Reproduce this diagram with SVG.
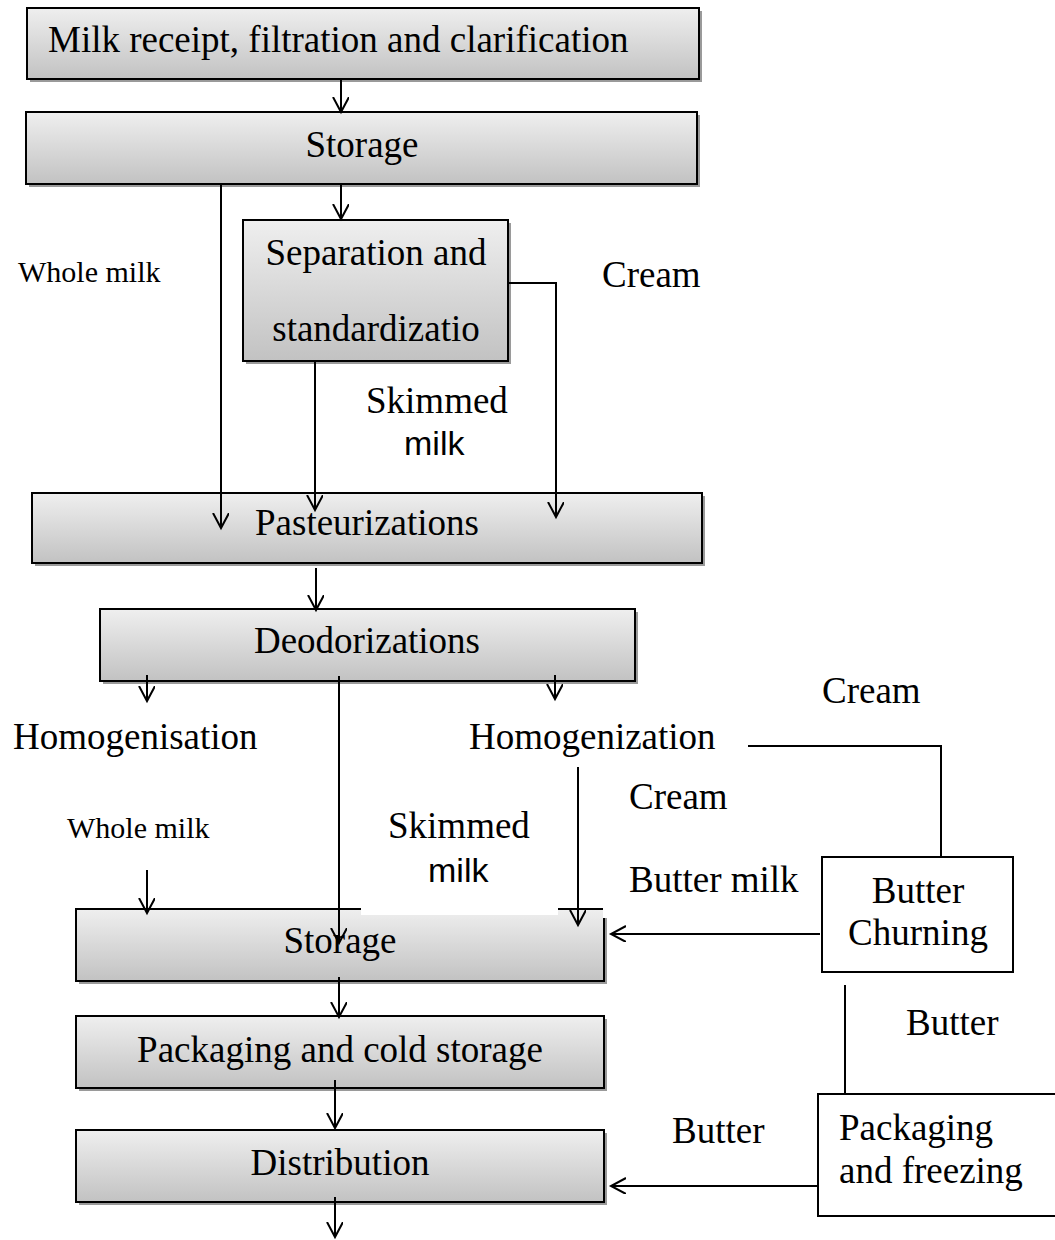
<svg xmlns="http://www.w3.org/2000/svg" width="1055" height="1240" viewBox="0 0 1055 1240">
<style>
.box{fill:url(#g);stroke:#000;stroke-width:2}
.wbox{fill:#fff;stroke:#000;stroke-width:2}
.sh{fill:#9a9a9a}
.t{font-family:"Liberation Serif","Times New Roman",serif;font-size:37px;fill:#000}
.ts{font-family:"Liberation Serif","Times New Roman",serif;font-size:30px;fill:#000}
.ta{font-family:"Liberation Sans",Arial,sans-serif;font-size:34px;fill:#000}
.c{stroke:#000;stroke-width:2;fill:none}
.ca{stroke:#000;stroke-width:2;fill:none;marker-end:url(#ah)}
</style>
<defs>
<linearGradient id="g" x1="0" y1="0" x2="0" y2="1">
<stop offset="0" stop-color="#efefef"/>
<stop offset="1" stop-color="#c2c2c2"/>
</linearGradient>
<marker id="ah" markerUnits="userSpaceOnUse" markerWidth="20" markerHeight="20" refX="15" refY="8" orient="auto" viewBox="0 0 20 20">
<path d="M0,0 L15,8 L0,16" fill="none" stroke="#000" stroke-width="2"/>
</marker>
</defs>
<rect width="1055" height="1240" fill="#fff"/>

<g id="n1">
<rect class="sh" x="30" y="11" width="672" height="71"/>
<rect class="box" x="27" y="8" width="672" height="71"/>
<text class="t" x="48" y="52">Milk receipt, filtration and clarification</text>
</g>
<g id="n2">
<rect class="sh" x="29" y="115" width="671" height="72"/>
<rect class="box" x="26" y="112" width="671" height="72"/>
<text class="t" x="362" y="157" text-anchor="middle">Storage</text>
</g>
<g id="n3">
<rect class="sh" x="246" y="223" width="265" height="141"/>
<rect class="box" x="243" y="220" width="265" height="141"/>
<text class="t" x="376" y="265" text-anchor="middle">Separation and</text>
<text class="t" x="376" y="341" text-anchor="middle">standardizatio</text>
</g>
<g id="n4">
<rect class="sh" x="35" y="496" width="670" height="70"/>
<rect class="box" x="32" y="493" width="670" height="70"/>
<text class="t" x="367" y="535" text-anchor="middle">Pasteurizations</text>
</g>
<g id="n5">
<rect class="sh" x="103" y="612" width="535" height="72"/>
<rect class="box" x="100" y="609" width="535" height="72"/>
<text class="t" x="367" y="653" text-anchor="middle">Deodorizations</text>
</g>
<g id="n6">
<rect class="sh" x="79" y="912" width="528" height="72"/>
<rect class="box" x="76" y="909" width="528" height="72"/>
<rect x="361" y="903" width="197" height="12" fill="#fff"/>
<rect x="603" y="905" width="6" height="13" fill="#fff"/>
<text class="t" x="340" y="953" text-anchor="middle">Storage</text>
</g>
<g id="n7">
<rect class="sh" x="79" y="1019" width="528" height="72"/>
<rect class="box" x="76" y="1016" width="528" height="72"/>
<text class="t" x="340" y="1062" text-anchor="middle">Packaging and cold storage</text>
</g>
<g id="n8">
<rect class="sh" x="79" y="1133" width="528" height="72"/>
<rect class="box" x="76" y="1130" width="528" height="72"/>
<text class="t" x="340" y="1175" text-anchor="middle">Distribution</text>
</g>
<g id="n9">
<rect class="wbox" x="822" y="857" width="191" height="115"/>
<text class="t" x="918" y="903" text-anchor="middle">Butter</text>
<text class="t" x="918" y="945" text-anchor="middle">Churning</text>
</g>
<g id="n10">
<rect class="wbox" x="818" y="1094" width="250" height="122"/>
<text class="t" x="839" y="1140">Packaging</text>
<text class="t" x="839" y="1183">and freezing</text>
</g>

<g id="connectors">
<line class="ca" x1="341" y1="79" x2="341" y2="112"/>
<line class="ca" x1="221" y1="184" x2="221" y2="528"/>
<line class="ca" x1="341" y1="184" x2="341" y2="219"/>
<polyline class="ca" points="508,283 556,283 556,517"/>
<line class="ca" x1="315" y1="361" x2="315" y2="510"/>
<line class="ca" x1="316" y1="568" x2="316" y2="610"/>
<line class="ca" x1="147" y1="675" x2="147" y2="701"/>
<line class="ca" x1="555" y1="675" x2="555" y2="699"/>
<line class="ca" x1="339" y1="676" x2="339" y2="943"/>
<polyline class="c" points="748,746 941,746 941,857"/>
<line class="ca" x1="147" y1="870" x2="147" y2="913"/>
<line class="ca" x1="578" y1="767" x2="578" y2="925"/>
<line class="ca" x1="820" y1="934" x2="611" y2="934"/>
<line class="ca" x1="339" y1="977" x2="339" y2="1017"/>
<line class="ca" x1="335" y1="1080" x2="335" y2="1128"/>
<line class="ca" x1="335" y1="1197" x2="335" y2="1237"/>
<line class="c" x1="845" y1="985" x2="845" y2="1094"/>
<line class="ca" x1="818" y1="1186" x2="611" y2="1186"/>
</g>

<g id="labels">
<text class="ts" x="18" y="282">Whole milk</text>
<text class="t" x="602" y="287">Cream</text>
<text class="t" x="366" y="413">Skimmed</text>
<text class="ta" x="404" y="455">milk</text>
<text class="t" x="13" y="749">Homogenisation</text>
<text class="t" x="469" y="749">Homogenization</text>
<text class="t" x="822" y="703">Cream</text>
<text class="t" x="629" y="809">Cream</text>
<text class="ts" x="67" y="838">Whole milk</text>
<text class="t" x="388" y="838">Skimmed</text>
<text class="ta" x="428" y="882">milk</text>
<text class="t" x="629" y="892">Butter milk</text>
<text class="t" x="906" y="1035">Butter</text>
<text class="t" x="672" y="1143">Butter</text>
</g>
</svg>
